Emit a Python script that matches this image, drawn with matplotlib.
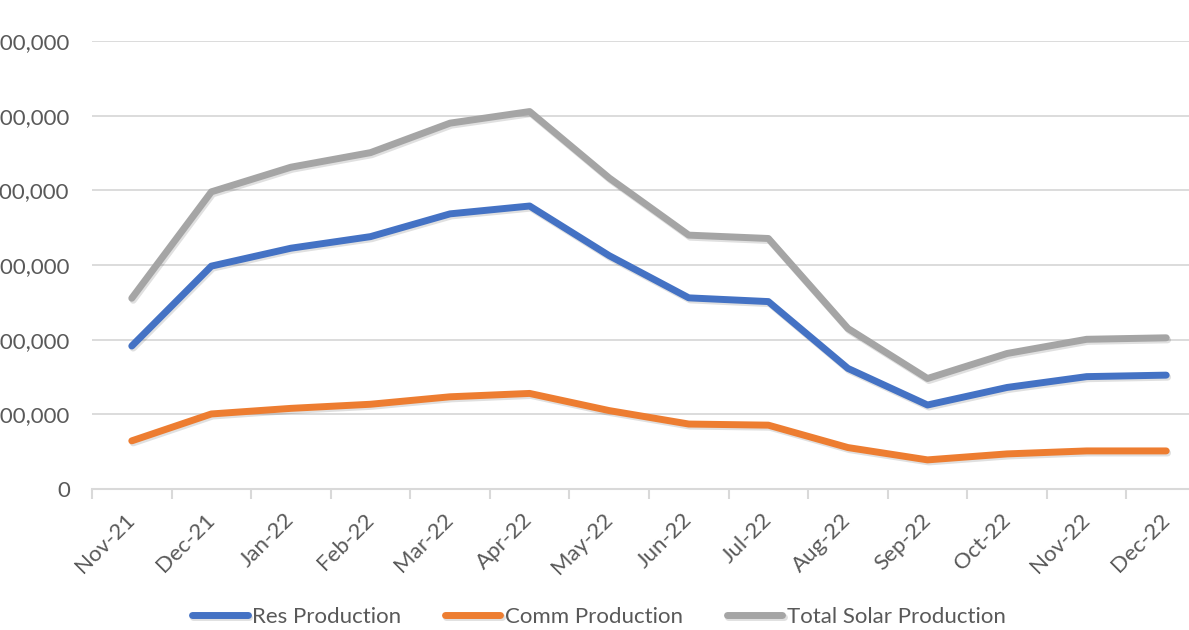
import matplotlib
matplotlib.use('Agg')
import matplotlib.pyplot as plt
import matplotlib.patheffects as pe
from matplotlib.ticker import FuncFormatter, FixedLocator
from matplotlib.transforms import ScaledTranslation

months = ['Nov-21', 'Dec-21', 'Jan-22', 'Feb-22', 'Mar-22', 'Apr-22', 'May-22',
          'Jun-22', 'Jul-22', 'Aug-22', 'Sep-22', 'Oct-22', 'Nov-22', 'Dec-22']
res_prod = [383000, 597000, 645000, 676000, 737000, 758000, 625000,
            512000, 502000, 323000, 225000, 272000, 301000, 305000]
comm_prod = [129000, 201000, 216000, 227000, 247000, 256000, 210000,
             174000, 171000, 111000, 78000, 94000, 102000, 102000]
total_prod = [511000, 796000, 862000, 901000, 980000, 1011000, 833000,
              680000, 671000, 430000, 296000, 363000, 401000, 405000]

series = [('Res Production', res_prod, '#4472C4'),
          ('Comm Production', comm_prod, '#ED7D31'),
          ('Total Solar Production', total_prod, '#A5A5A5')]

plt.rcParams['font.family'] = ['Lato', 'DejaVu Sans']
txt_col = '#595959'
grid_col = '#D9D9D9'
fs = 16

fig = plt.figure(figsize=(11.89, 6.30), dpi=100)
# chart is cropped on left and right, so axes run past the figure edge
ax = fig.add_axes([92 / 1189, 1 - 489 / 630, 1114 / 1189, 448 / 630])

x = list(range(len(months)))
shadow = [pe.SimpleLineShadow(offset=(1, -1.5), shadow_color='black', alpha=0.12),
          pe.Normal()]
for name, vals, col in series:
    ax.plot(x, vals, color=col, lw=5, label=name, solid_capstyle='round',
            solid_joinstyle='round', path_effects=shadow, zorder=3)

ax.set_xlim(-0.5, len(months) - 0.5)
ax.set_ylim(0, 1200000)
ax.set_yticks(range(0, 1200001, 200000))
ax.yaxis.set_major_formatter(FuncFormatter(lambda v, p: f'{int(v):,}'))
ax.grid(axis='y', color=grid_col, lw=1.3, zorder=0)

ax.set_xticks(x)
ax.set_xticklabels(months, rotation=45, ha='right', va='center',
                   rotation_mode='anchor')
shift = ScaledTranslation(3 / 100, 0, fig.dpi_scale_trans)
for lbl in ax.get_xticklabels():
    lbl.set_transform(lbl.get_transform() + shift)
ax.xaxis.set_minor_locator(FixedLocator([i - 0.5 for i in range(len(months) + 1)]))
ax.tick_params(axis='x', which='major', length=0, pad=20, labelsize=fs, labelcolor=txt_col)
ax.tick_params(axis='x', which='minor', length=7, width=1.5, color=grid_col)
ax.tick_params(axis='y', length=0, pad=16, labelsize=fs, labelcolor=txt_col)

for s in ['top', 'right', 'left']:
    ax.spines[s].set_visible(False)
ax.spines['bottom'].set_color(grid_col)
ax.spines['bottom'].set_linewidth(1.5)

leg = fig.legend(loc='center', bbox_to_anchor=(599 / 1189, 1 - 617 / 630), ncol=3,
                 frameon=False, fontsize=fs, handlelength=2.5, handletextpad=0.22,
                 columnspacing=1.95, labelcolor=txt_col)
for h in leg.get_lines():
    h.set_linewidth(5)
    h.set_solid_capstyle('round')

fig.savefig('out.png', dpi=100)
